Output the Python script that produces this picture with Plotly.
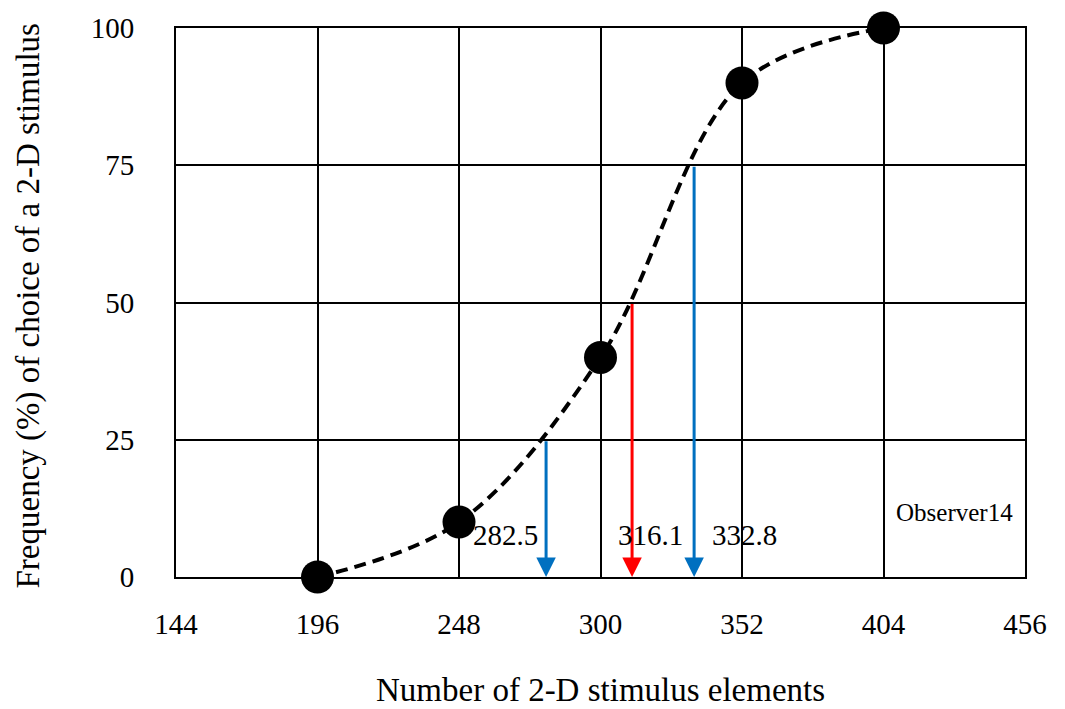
import plotly.graph_objects as go

# Data
stim_elements = [196, 248, 300, 352, 404]
choice_freq = [0, 10, 40, 90, 100]

arrow_x = [280.0, 311.6, 334.4]
arrow_top = [25, 50, 75]
arrow_labels = ["282.5", "316.1", "332.8"]
arrow_colors = ["#0070C0", "#FF0000", "#0070C0"]

x_ticks = [144, 196, 248, 300, 352, 404, 456]
y_ticks = [0, 25, 50, 75, 100]

FONT = "Liberation Serif"

fig = go.Figure()
fig.add_trace(go.Scatter(
    x=stim_elements, y=choice_freq, mode="lines+markers",
    line=dict(color="black", width=4, dash="12px,7px", shape="spline", smoothing=1.0),
    marker=dict(color="black", size=33),
    cliponaxis=False, showlegend=False, hoverinfo="skip",
))

anchors = ["right", "center", "left"]
xshifts = [-6, 18, 16]
for xv, top, lab, col, anc, xs in zip(arrow_x, arrow_top, arrow_labels, arrow_colors, anchors, xshifts):
    fig.add_annotation(
        x=xv, y=0, ax=xv, ay=top, xref="x", yref="y", axref="x", ayref="y",
        showarrow=True, arrowhead=2, arrowsize=1.3, arrowwidth=3, arrowcolor=col, text="",
    )
    fig.add_annotation(
        x=xv, y=7.6, xref="x", yref="y", text=lab, showarrow=False,
        xanchor=anc, xshift=xs, font=dict(family=FONT, size=29, color="black"),
    )

fig.add_annotation(x=1.0, y=0, xref="paper", yref="paper", text="Observer14",
                   showarrow=False, xanchor="right", yanchor="middle", xshift=-10, yshift=65,
                   font=dict(family=FONT, size=25, color="black"))

fig.add_annotation(x=0.5, y=0, xref="paper", yref="paper",
                   text="Number of 2-D stimulus elements", showarrow=False,
                   xanchor="center", yanchor="middle", yshift=-113,
                   font=dict(family=FONT, size=33, color="black"))
fig.add_annotation(x=0, y=0.5, xref="paper", yref="paper",
                   text="Frequency (%) of choice of a 2-D stimulus", showarrow=False,
                   textangle=-90, xanchor="center", yanchor="middle", xshift=-148, yshift=-4,
                   font=dict(family=FONT, size=33, color="black"))

fig.update_xaxes(range=[144, 456], tickvals=x_ticks, showgrid=True, gridcolor="black",
                 gridwidth=1.5, showline=True, linecolor="black", linewidth=2, mirror=True,
                 zeroline=False, ticks="", ticklabelstandoff=20,
                 tickfont=dict(family=FONT, size=29, color="black"))
fig.update_yaxes(range=[0, 100], tickvals=y_ticks, showgrid=True, gridcolor="black",
                 gridwidth=1.5, showline=True, linecolor="black", linewidth=2, mirror=True,
                 zeroline=False, ticks="", ticklabelstandoff=34,
                 tickfont=dict(family=FONT, size=29, color="black"))

fig.update_layout(width=1065, height=709, margin=dict(l=176, r=40, t=26, b=132),
                  plot_bgcolor="white", paper_bgcolor="white")

fig.write_html("out.html")
